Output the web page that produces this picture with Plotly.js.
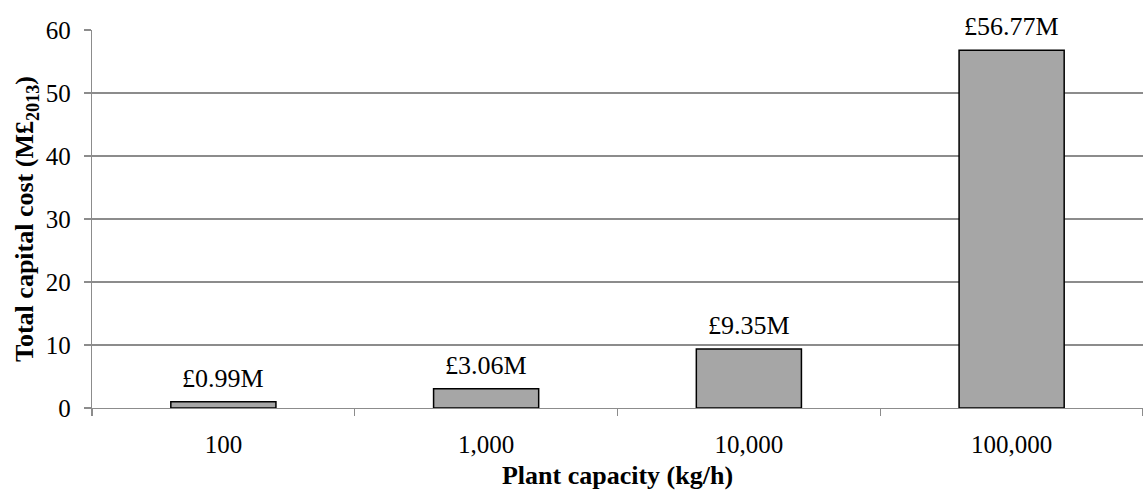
<!DOCTYPE html>
<html>
<head>
<meta charset="utf-8">
<script src="https://cdn.plot.ly/plotly-3.0.1.min.js"></script>
<style>html,body{margin:0;padding:0;background:#fff;}#chart{width:1143px;height:494px;}</style>
</head>
<body>
<div id="chart"></div>
<script>
var categories = ["100", "1,000", "10,000", "100,000"];
var capitalCost = [0.99, 3.06, 9.35, 56.77];
var valueLabels = ["£0.99M", "£3.06M", "£9.35M", "£56.77M"];
var yTicks = [0, 10, 20, 30, 40, 50, 60];

var serif = "Liberation Serif, Times New Roman, serif";

var trace = {
  type: "bar",
  x: categories,
  y: capitalCost,
  marker: {color: "#a6a6a6", line: {color: "#000000", width: 1.5}},
  hoverinfo: "none"
};

var annotations = categories.map(function (c, i) {
  return {
    x: i, y: capitalCost[i], xref: "x", yref: "y",
    text: valueLabels[i], showarrow: false,
    yanchor: "bottom", yshift: 7,
    font: {family: serif, size: 26, color: "#000"}
  };
});

var layout = {
  width: 1143, height: 494,
  margin: {l: 92, r: 0, t: 30, b: 86},
  paper_bgcolor: "#fff", plot_bgcolor: "#fff",
  showlegend: false,
  bargap: 0.6,
  xaxis: {
    type: "category",
    range: [-0.5, 3.5],
    tickson: "boundaries",
    tickangle: 0,
    ticks: "outside", ticklen: 7, tickcolor: "#8c8c8c", tickwidth: 1.3,
    ticklabelstandoff: 14,
    showline: true, linecolor: "#8c8c8c", linewidth: 1.3,
    showgrid: false,
    tickfont: {family: serif, size: 25, color: "#000"},
    title: {text: "<b>Plant capacity (kg/h)</b>", font: {family: serif, size: 26, color: "#000"}, standoff: 8}
  },
  yaxis: {
    range: [0, 60],
    tickvals: yTicks,
    ticks: "outside", ticklen: 7, tickcolor: "#8c8c8c", tickwidth: 1.3,
    ticklabelstandoff: 8,
    showline: true, linecolor: "#8c8c8c", linewidth: 1.3,
    showgrid: true, gridcolor: "#8c8c8c", gridwidth: 1.3,
    zeroline: false,
    tickfont: {family: serif, size: 25, color: "#000"},
    title: {text: "<b>Total capital cost (M£<sub>2013</sub>)</b>", font: {family: serif, size: 26, color: "#000"}, standoff: 4}
  },
  annotations: annotations
};

Plotly.newPlot("chart", [trace], layout, {displayModeBar: false, staticPlot: true});
</script>
</body>
</html>
